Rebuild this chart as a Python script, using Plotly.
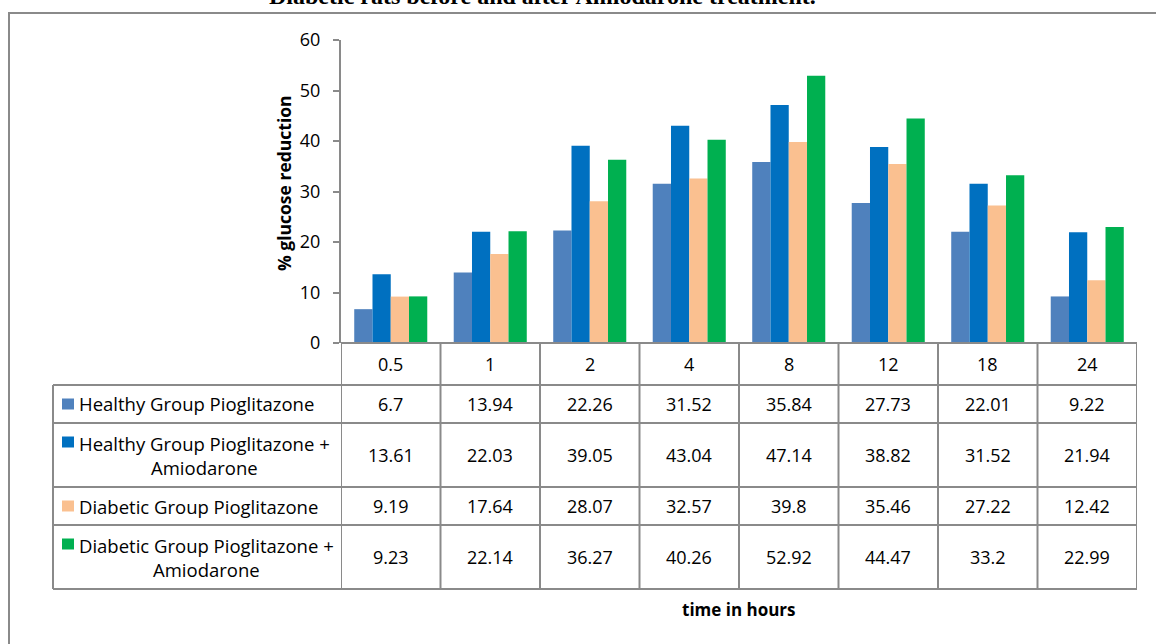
import plotly.graph_objects as go

# Sampling times (hours) and % glucose reduction for each group
hours = ["0.5", "1", "2", "4", "8", "12", "18", "24"]
healthy_pio = [6.7, 13.94, 22.26, 31.52, 35.84, 27.73, 22.01, 9.22]
healthy_pio_amio = [13.61, 22.03, 39.05, 43.04, 47.14, 38.82, 31.52, 21.94]
diabetic_pio = [9.19, 17.64, 28.07, 32.57, 39.8, 35.46, 27.22, 12.42]
diabetic_pio_amio = [9.23, 22.14, 36.27, 40.26, 52.92, 44.47, 33.2, 22.99]

series_names = [
    "Healthy Group Pioglitazone",
    "Healthy Group Pioglitazone +<br>Amiodarone",
    "Diabetic Group Pioglitazone",
    "Diabetic Group Pioglitazone +<br>Amiodarone",
]
series_values = [healthy_pio, healthy_pio_amio, diabetic_pio, diabetic_pio_amio]
series_colors = ["#4F81BD", "#0070C0", "#FAC090", "#00B050"]

title_text = "Diabetic rats before and after Amiodarone treatment."
y_title = "% glucose reduction"
x_title = "time in hours"

W, H = 1156, 644
L, R, T, B = 341, 1137, 40, 343  # plot area in pixels
FONT = "Open Sans"
GRID = "#8a8a8a"


def px(xp):
    return (xp - L) / (R - L)


def py(yp):
    return (B - yp) / (B - T)


def label(x, y, text, size=18, xref="paper", xanchor="center", **kw):
    return dict(x=x, y=y, xref=xref, yref="paper", text=text, showarrow=False,
                xanchor=xanchor, yanchor="middle",
                font=dict(size=size, color="#000", family=kw.pop("family", FONT)), **kw)


fig = go.Figure()
for name, vals, col in zip(series_names, series_values, series_colors):
    fig.add_trace(go.Bar(x=hours, y=vals, name=name.replace("<br>", " "),
                         marker=dict(color=col, line=dict(width=0))))

shapes = []
annotations = []

# Data table rows: (top, bottom) in pixels
row_bounds = [(385, 423), (423, 487), (487, 525), (525, 589)]

# horizontal table rules
shapes.append(dict(type="line", xref="paper", yref="paper", x0=0, x1=1,
                   y0=py(343), y1=py(343), line=dict(color=GRID, width=2)))
for yy in [385, 423, 487, 525, 589]:
    shapes.append(dict(type="line", xref="paper", yref="paper", x0=px(53), x1=1,
                       y0=py(yy), y1=py(yy), line=dict(color=GRID, width=2)))
# vertical table rules
shapes.append(dict(type="line", xref="paper", yref="paper", x0=px(53), x1=px(53),
                   y0=py(385), y1=py(589), line=dict(color=GRID, width=2)))
for k in range(len(hours) + 1):
    shapes.append(dict(type="line", xref="x", yref="paper", x0=k - 0.5, x1=k - 0.5,
                       y0=py(343), y1=py(589), line=dict(color=GRID, width=2)))

# header row with time labels (category index positions)
for i, h in enumerate(hours):
    annotations.append(label(i, py(364), h, xref="x"))

# data rows with legend keys
for (top, bot), name, vals, col in zip(row_bounds, series_names, series_values, series_colors):
    mid = (top + bot) / 2
    for i, v in enumerate(vals):
        annotations.append(label(i, py(mid), f"{v:g}", xref="x"))
    annotations.append(label(px(77), py(mid), name, size=18.5, xanchor="left", align="center"))
    two_line = "<br>" in name
    sq = mid - 13 if two_line else mid
    shapes.append(dict(type="rect", xref="paper", yref="paper", x0=px(62), x1=px(74),
                       y0=py(sq - 5.5), y1=py(sq + 5.5), fillcolor=col, line=dict(width=0)))

# outer chart border
shapes.append(dict(type="rect", xref="paper", yref="paper", x0=px(9), x1=px(1170),
                   y0=py(13), y1=py(660), line=dict(color=GRID, width=2),
                   fillcolor="rgba(0,0,0,0)"))

# titles
annotations.append(label(px(542), py(-4), f"<b>{title_text}</b>", size=24,
                         family="Liberation Serif"))
annotations.append(label(px(284), py(183), f"<b>{y_title}</b>", size=17.5, textangle=-90))
annotations.append(label(px(739), py(609), f"<b>{x_title}</b>", size=17))

fig.update_layout(
    width=W, height=H,
    margin=dict(l=L, r=W - R, t=T, b=H - B),
    paper_bgcolor="white", plot_bgcolor="white",
    barmode="group", bargap=0.266, bargroupgap=0,
    showlegend=False,
    shapes=shapes, annotations=annotations,
    font=dict(family=FONT, color="#000"),
)
fig.update_xaxes(type="category", range=[-0.5, len(hours) - 0.5], showticklabels=False,
                 showline=False, showgrid=False, zeroline=False, ticks="")
fig.update_yaxes(range=[0, 60], dtick=10, showgrid=False, zeroline=False,
                 showline=True, linecolor=GRID, linewidth=2, ticks="outside",
                 ticklen=6, tickcolor=GRID, tickwidth=2, ticklabelstandoff=9,
                 tickfont=dict(size=18, color="#000", family=FONT))

fig.write_html("out.html")
